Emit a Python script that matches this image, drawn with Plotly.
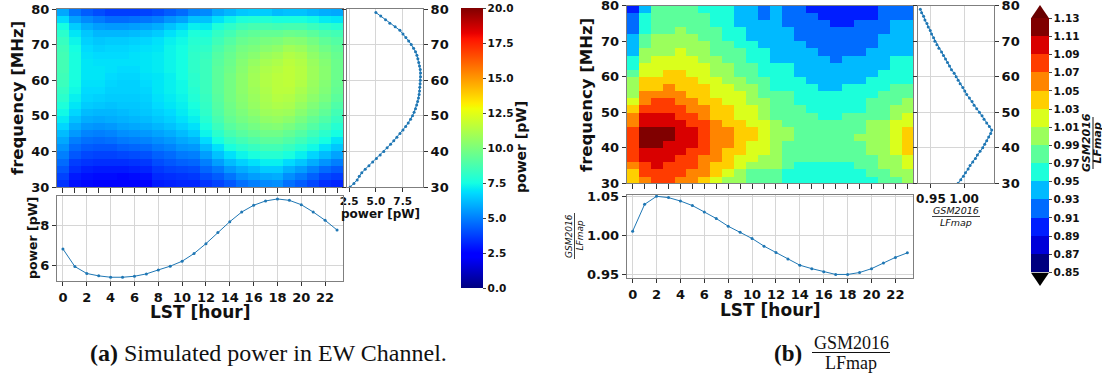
import numpy as np
import plotly.graph_objects as go

# ---------------- data ----------------
hours = list(range(24))
freq_centers = list(range(31, 80, 2))          # 2-MHz map rows (30..80)
freq_fine = list(range(30, 80))                # 1-MHz profile points

# (a) mean power vs LST [pW]
power_lst = [6.82, 5.93, 5.58, 5.46, 5.39, 5.39, 5.44, 5.56, 5.76, 5.95, 6.20, 6.59,
             7.09, 7.65, 8.20, 8.69, 9.03, 9.25, 9.35, 9.28, 9.06, 8.69, 8.27, 7.78]
# (a) mean power vs frequency [pW]
power_freq = [2.60, 2.95, 3.25, 3.45, 3.68, 4.00, 4.35, 4.70, 5.05, 5.40,
              5.74, 6.05, 6.37, 6.67, 6.96, 7.25, 7.53, 7.78, 8.02, 8.24,
              8.42, 8.57, 8.70, 8.81, 8.90, 8.98, 9.04, 9.08, 9.10, 9.13,
              9.15, 9.17, 9.17, 9.14, 9.07, 9.00, 8.92, 8.83, 8.70, 8.52,
              8.30, 8.06, 7.80, 7.53, 7.24, 6.80, 6.30, 5.90, 5.45, 5.00]
# (b) ratio vs LST
ratio_lst = [1.0056, 1.0404, 1.0508, 1.0491, 1.0447, 1.0388, 1.0305, 1.0220, 1.0120, 1.0043,
             0.9961, 0.9862, 0.9780, 0.9694, 0.9615, 0.9570, 0.9530, 0.9495, 0.9495, 0.9520,
             0.9570, 0.9642, 0.9716, 0.9775]
# (b) ratio vs frequency
ratio_freq = [0.991, 0.995, 0.999, 1.002, 1.006, 1.009, 1.013, 1.017, 1.020, 1.024,
              1.028, 1.031, 1.034, 1.037, 1.040, 1.0415, 1.038, 1.034, 1.030, 1.027,
              1.023, 1.019, 1.015, 1.012, 1.008, 1.004, 1.001, 0.998, 0.994, 0.991,
              0.988, 0.985, 0.981, 0.978, 0.975, 0.972, 0.969, 0.966, 0.962, 0.959,
              0.956, 0.954, 0.951, 0.949, 0.946, 0.944, 0.941, 0.939, 0.936, 0.934]

# (a) power map, one list per LST hour, rows from 31 MHz up to 79 MHz
power_map_by_hour = [
    [3.5,3.8,4.2,4.6,5.0,5.4,5.8,6.2,6.7,7.1,7.4,7.7,8.0,8.2,8.4,8.5,8.6,8.6,8.6,8.5,8.3,8.0,7.5,6.8,5.8],
    [2.8,3.0,3.4,3.7,4.2,4.6,5.0,5.5,5.9,6.3,6.7,7.0,7.2,7.4,7.5,7.6,7.6,7.6,7.6,7.5,7.3,7.0,6.5,5.7,4.8],
    [2.6,2.8,3.1,3.5,3.9,4.3,4.7,5.1,5.5,5.9,6.2,6.5,6.7,6.8,6.9,7.0,7.0,7.0,6.9,6.8,6.6,6.4,5.9,5.2,4.3],
    [2.5,2.7,3.0,3.4,3.8,4.2,4.6,5.0,5.4,5.8,6.1,6.4,6.6,6.8,6.9,7.0,7.0,6.9,6.8,6.6,6.4,6.1,5.6,4.9,4.0],
    [2.5,2.7,3.0,3.4,3.8,4.2,4.7,5.1,5.5,5.9,6.1,6.3,6.5,6.6,6.7,6.8,6.9,6.9,6.8,6.7,6.5,6.1,5.5,4.6,3.7],
    [2.4,2.6,3.0,3.4,3.9,4.4,4.9,5.3,5.7,6.0,6.2,6.4,6.5,6.6,6.6,6.7,6.8,6.9,6.8,6.7,6.5,6.1,5.5,4.6,3.7],
    [2.4,2.7,3.1,3.5,4.0,4.5,5.0,5.4,5.8,6.1,6.3,6.4,6.5,6.6,6.6,6.7,6.8,6.9,6.9,6.8,6.6,6.2,5.6,4.7,3.7],
    [2.5,2.8,3.2,3.6,4.1,4.6,5.1,5.5,5.9,6.2,6.4,6.5,6.6,6.7,6.8,6.9,7.0,7.0,7.0,6.9,6.7,6.3,5.7,4.8,3.8],
    [3.0,3.3,3.6,4.0,4.4,4.9,5.3,5.7,6.1,6.4,6.6,6.8,6.9,7.0,7.0,7.0,7.1,7.1,7.1,7.0,6.9,6.5,5.9,5.0,4.0],
    [3.1,3.4,3.8,4.2,4.6,5.1,5.5,5.9,6.3,6.6,6.8,7.0,7.1,7.2,7.2,7.2,7.3,7.3,7.3,7.3,7.2,6.9,6.3,5.4,4.3],
    [3.2,3.5,3.9,4.4,4.9,5.4,5.8,6.2,6.6,6.9,7.1,7.2,7.3,7.4,7.4,7.5,7.5,7.5,7.5,7.5,7.4,7.2,6.7,5.7,4.6],
    [3.2,3.6,4.0,4.5,5.0,5.5,6.0,6.5,6.9,7.2,7.4,7.6,7.8,7.9,8.0,8.0,8.1,8.1,8.1,8.0,7.9,7.7,7.2,6.3,5.1],
    [3.5,4.0,4.5,5.0,5.6,6.2,6.8,7.3,7.6,7.9,8.1,8.2,8.3,8.4,8.4,8.4,8.4,8.4,8.3,8.1,7.9,7.6,7.1,6.3,5.2],
    [3.8,4.3,4.9,5.6,6.3,6.9,7.5,8.0,8.4,8.7,8.9,9.0,9.1,9.2,9.2,9.2,9.2,9.1,9.0,8.8,8.5,8.2,7.7,6.9,5.8],
    [4.2,4.8,5.5,6.2,6.9,7.6,8.2,8.7,9.1,9.4,9.6,9.7,9.8,9.8,9.8,9.8,9.7,9.6,9.5,9.3,9.0,8.6,8.1,7.3,6.1],
    [4.7,5.3,5.9,6.6,7.3,8.0,8.6,9.1,9.5,9.8,10.0,10.2,10.3,10.4,10.4,10.4,10.3,10.2,10.0,9.8,9.5,9.1,8.5,7.7,6.4],
    [5.0,5.6,6.2,6.9,7.6,8.3,8.9,9.4,9.8,10.1,10.4,10.6,10.7,10.8,10.9,10.9,10.8,10.6,10.3,10.0,9.7,9.3,8.7,7.8,6.5],
    [5.2,5.8,6.5,7.2,7.9,8.6,9.2,9.7,10.1,10.5,10.8,11.0,11.1,11.2,11.3,11.3,11.2,11.0,10.7,10.3,9.9,9.4,8.7,7.8,6.5],
    [5.3,5.9,6.5,7.2,7.9,8.6,9.2,9.7,10.2,10.6,10.9,11.2,11.4,11.5,11.5,11.5,11.4,11.2,10.9,10.5,10.0,9.4,8.6,7.6,6.2],
    [4.7,5.3,6.0,6.8,7.6,8.3,8.9,9.4,9.9,10.4,10.8,11.1,11.3,11.5,11.6,11.6,11.6,11.5,11.3,10.9,10.3,9.6,8.7,7.6,6.3],
    [4.3,4.9,5.6,6.4,7.2,7.9,8.5,9.0,9.5,9.9,10.3,10.6,10.9,11.1,11.3,11.4,11.4,11.3,11.1,10.7,10.2,9.5,8.7,7.6,6.3],
    [3.9,4.4,5.1,5.9,6.7,7.4,8.0,8.5,9.0,9.4,9.8,10.1,10.4,10.6,10.7,10.8,10.8,10.7,10.5,10.2,9.8,9.2,8.4,7.4,6.1],
    [3.4,3.9,4.6,5.4,6.2,6.9,7.5,8.0,8.5,8.9,9.3,9.6,9.9,10.1,10.2,10.3,10.3,10.2,10.0,9.7,9.3,8.8,8.1,7.1,5.9],
    [3.2,3.7,4.3,5.0,5.7,6.4,7.0,7.5,7.9,8.3,8.6,8.9,9.2,9.4,9.5,9.6,9.6,9.6,9.5,9.3,9.0,8.6,7.9,7.0,5.8],
]

# (b) ratio map, one list per LST hour, rows from 31 MHz up to 79 MHz
ratio_map_by_hour = [
    [1.04,1.04,1.06,1.08,1.08,1.08,1.08,1.08,1.06,1.06,1.04,1.02,1.00,1.00,1.00,0.98,0.96,0.96,0.94,0.94,0.94,0.92,0.92,0.92,0.90],
    [1.06,1.08,1.08,1.10,1.10,1.12,1.12,1.12,1.10,1.10,1.08,1.06,1.06,1.04,1.04,1.02,1.02,1.00,1.00,0.98,0.98,0.96,0.96,0.96,0.94],
    [1.08,1.08,1.10,1.10,1.10,1.12,1.12,1.12,1.10,1.10,1.08,1.08,1.06,1.04,1.04,1.02,1.02,1.02,1.00,1.00,1.00,0.98,0.98,0.98,0.98],
    [1.08,1.08,1.08,1.10,1.10,1.10,1.12,1.12,1.10,1.10,1.08,1.08,1.06,1.06,1.04,1.04,1.02,1.02,1.00,1.00,1.00,0.98,0.98,0.98,0.98],
    [1.06,1.08,1.08,1.08,1.10,1.10,1.10,1.10,1.10,1.08,1.08,1.06,1.06,1.04,1.04,1.04,1.02,1.02,1.02,1.00,1.00,1.00,0.98,0.98,0.98],
    [1.06,1.06,1.08,1.08,1.08,1.10,1.10,1.10,1.08,1.08,1.06,1.06,1.04,1.04,1.04,1.02,1.02,1.02,1.00,1.00,1.00,0.98,0.98,0.98,0.98],
    [1.04,1.06,1.06,1.06,1.08,1.08,1.08,1.08,1.08,1.06,1.06,1.04,1.04,1.04,1.02,1.02,1.02,1.00,1.00,1.00,0.98,0.98,0.98,0.98,0.96],
    [1.02,1.04,1.04,1.06,1.06,1.06,1.06,1.06,1.06,1.04,1.04,1.04,1.02,1.02,1.02,1.00,1.00,1.00,0.98,0.98,0.98,0.98,0.96,0.96,0.96],
    [1.00,1.02,1.04,1.04,1.04,1.06,1.06,1.06,1.04,1.04,1.04,1.02,1.02,1.02,1.00,1.00,1.00,0.98,0.98,0.98,0.96,0.96,0.96,0.96,0.96],
    [1.00,1.00,1.02,1.02,1.04,1.04,1.04,1.04,1.04,1.02,1.02,1.02,1.02,1.00,1.00,0.98,0.98,0.98,0.98,0.96,0.96,0.96,0.94,0.94,0.94],
    [0.98,0.98,1.00,1.02,1.02,1.02,1.04,1.04,1.02,1.02,1.02,1.00,1.00,1.00,0.98,0.98,0.98,0.96,0.96,0.96,0.94,0.94,0.94,0.94,0.94],
    [0.98,0.98,1.00,1.00,1.02,1.02,1.02,1.02,1.02,1.00,1.00,1.00,0.98,0.98,0.98,0.96,0.96,0.96,0.96,0.94,0.94,0.94,0.94,0.92,0.92],
    [0.98,0.98,1.00,1.00,1.00,1.00,1.00,1.00,1.00,0.98,0.98,0.98,0.98,0.96,0.96,0.96,0.96,0.94,0.94,0.94,0.94,0.94,0.94,0.94,0.94],
    [0.96,0.96,0.98,0.98,0.98,0.98,1.00,1.00,0.98,0.98,0.98,0.98,0.98,0.96,0.96,0.96,0.96,0.94,0.94,0.94,0.94,0.94,0.92,0.92,0.92],
    [0.96,0.96,0.96,0.98,0.98,0.98,0.98,0.98,0.98,0.98,0.98,0.96,0.96,0.96,0.96,0.94,0.94,0.94,0.94,0.94,0.92,0.92,0.92,0.92,0.92],
    [0.96,0.96,0.96,0.98,0.98,0.98,0.98,0.98,0.98,0.98,0.96,0.96,0.96,0.96,0.94,0.94,0.94,0.94,0.94,0.92,0.92,0.92,0.92,0.92,0.90],
    [0.96,0.96,0.96,0.98,0.98,0.98,0.98,0.98,0.98,0.96,0.96,0.96,0.96,0.94,0.94,0.94,0.94,0.94,0.92,0.92,0.92,0.92,0.92,0.90,0.90],
    [0.96,0.96,0.96,0.98,0.98,0.98,0.98,0.98,0.98,0.96,0.96,0.96,0.96,0.94,0.94,0.94,0.94,0.92,0.92,0.92,0.92,0.92,0.90,0.90,0.90],
    [0.96,0.96,0.96,0.98,0.98,0.98,0.98,0.98,0.98,0.98,0.96,0.96,0.96,0.96,0.94,0.94,0.94,0.94,0.92,0.92,0.92,0.92,0.90,0.90,0.90],
    [0.96,0.96,0.98,0.98,0.98,0.98,1.00,0.98,0.98,0.98,0.96,0.96,0.96,0.96,0.94,0.94,0.94,0.94,0.92,0.92,0.92,0.92,0.92,0.90,0.90],
    [0.96,0.98,0.98,0.98,1.00,1.00,1.00,1.00,1.00,0.98,0.98,0.98,0.96,0.96,0.96,0.94,0.94,0.94,0.94,0.92,0.92,0.92,0.92,0.90,0.90],
    [0.98,0.98,1.00,1.00,1.00,1.00,1.00,1.00,1.00,0.98,0.98,0.98,0.98,0.96,0.96,0.96,0.94,0.94,0.94,0.94,0.94,0.92,0.92,0.92,0.92],
    [0.98,1.00,1.00,1.00,1.02,1.02,1.02,1.02,1.02,1.00,1.00,0.98,0.98,0.98,0.96,0.96,0.96,0.96,0.94,0.94,0.94,0.94,0.94,0.92,0.92],
    [1.00,1.00,1.02,1.02,1.04,1.04,1.04,1.04,1.02,1.02,1.00,1.00,0.98,0.98,0.96,0.96,0.96,0.96,0.94,0.94,0.94,0.94,0.94,0.92,0.92],
]

power_ticks = [0, 2.5, 5, 7.5, 10, 12.5, 15, 17.5, 20]
ratio_levels = [0.85, 0.87, 0.89, 0.91, 0.93, 0.95, 0.97, 0.99, 1.01, 1.03, 1.05, 1.07, 1.09, 1.11, 1.13]
ratio_colors = ['rgb(0,0,128)', 'rgb(0,0,217)', 'rgb(0,29,255)', 'rgb(0,108,255)', 'rgb(0,186,255)',
                'rgb(28,255,218)', 'rgb(92,255,155)', 'rgb(155,255,92)', 'rgb(218,255,28)',
                'rgb(255,206,0)', 'rgb(255,133,0)', 'rgb(255,60,0)', 'rgb(217,0,0)', 'rgb(128,0,0)']

# ---------------- layout helpers ----------------
W, H = 1102, 376
def fx(x): return x / W
def fy(y): return 1 - y / H

jet = [[0.0, 'rgb(0,0,128)'], [0.11, 'rgb(0,0,255)'], [0.125, 'rgb(0,0,255)'],
       [0.34, 'rgb(0,219,255)'], [0.35, 'rgb(0,230,247)'], [0.375, 'rgb(21,255,226)'],
       [0.64, 'rgb(239,255,8)'], [0.65, 'rgb(247,246,0)'], [0.66, 'rgb(255,236,0)'],
       [0.89, 'rgb(255,19,0)'], [0.91, 'rgb(232,0,0)'], [1.0, 'rgb(128,0,0)']]
nb = len(ratio_colors)
disc = []
for k, c in enumerate(ratio_colors):
    disc.append([k / nb, c])
    disc.append([(k + 1) / nb, c])

powZ = np.array(power_map_by_hour).T
ratZ = np.array(ratio_map_by_hour).T

BLUE = '#1f77b4'
FONT = 'DejaVu Sans'
tickf = dict(family=FONT, size=13, color='#111', weight='bold')
smallf = dict(family=FONT, size=10.5, color='#111', weight='bold')

fig = go.Figure()
fig.add_trace(go.Heatmap(
    z=powZ, x=hours, y=freq_centers, colorscale=jet, zmin=0, zmax=20,
    xaxis='x', yaxis='y', hoverinfo='skip',
    colorbar=dict(x=fx(461), xanchor='left', xpad=0, ypad=0, y=fy(8), yanchor='top',
                  len=(288 - 8) / H, thickness=22, thicknessmode='pixels', outlinewidth=0,
                  tickvals=power_ticks, ticktext=['%.1f' % v for v in power_ticks],
                  ticks='outside', ticklen=3, tickfont=smallf)))
fig.add_trace(go.Scatter(x=power_freq, y=freq_fine, xaxis='x2', yaxis='y2', mode='lines+markers',
                         line=dict(color=BLUE, width=1), marker=dict(size=3, color=BLUE)))
fig.add_trace(go.Scatter(x=hours, y=power_lst, xaxis='x3', yaxis='y3', mode='lines+markers',
                         line=dict(color=BLUE, width=1), marker=dict(size=3, color=BLUE)))
fig.add_trace(go.Heatmap(
    z=ratZ, x=hours, y=freq_centers, colorscale=disc, zmin=0.85, zmax=1.13,
    xaxis='x4', yaxis='y4', hoverinfo='skip',
    colorbar=dict(x=fx(1031), xanchor='left', xpad=0, ypad=0, y=fy(18.3), yanchor='top',
                  len=(272.7 - 18.3) / H, thickness=18, thicknessmode='pixels', outlinewidth=0,
                  tickvals=ratio_levels, ticktext=['%.2f' % v for v in ratio_levels],
                  ticks='outside', ticklen=3, tickfont=smallf)))
fig.add_trace(go.Scatter(x=ratio_freq, y=freq_fine, xaxis='x5', yaxis='y5', mode='lines+markers',
                         line=dict(color=BLUE, width=1), marker=dict(size=3, color=BLUE)))
fig.add_trace(go.Scatter(x=hours, y=ratio_lst, xaxis='x6', yaxis='y6', mode='lines+markers',
                         line=dict(color=BLUE, width=1), marker=dict(size=3, color=BLUE)))

base = dict(showline=True, linecolor='#7f7f7f', linewidth=1, mirror=True, ticks='outside',
            ticklen=4, tickwidth=1, tickcolor='#333', tickfont=tickf, zeroline=False,
            showgrid=False, gridcolor='#d6d6d6', gridwidth=1, automargin=False,
            ticklabeloverflow='allow')

def ax(**kw):
    d = dict(base)
    d.update(kw)
    return d

freq_ticks = [30, 40, 50, 60, 70, 80]
lst_ticks = list(range(0, 24, 2))

fig.update_layout(
    width=W, height=H, margin=dict(l=0, r=0, t=0, b=0, pad=0, autoexpand=False),
    paper_bgcolor='white', plot_bgcolor='white', showlegend=False,
    # (a) map
    xaxis=ax(domain=[fx(57), fx(343)], range=[-0.5, 23.5], dtick=1, showticklabels=False,
             anchor='y', ticklen=5),
    yaxis=ax(domain=[fy(187), fy(9)], range=[30, 80], tickvals=freq_ticks, anchor='x'),
    # (a) side profile
    xaxis2=ax(domain=[fx(347), fx(423)], range=[2.3, 9.4], tickvals=[2.5, 5, 7.5],
              ticktext=['2.5', '5.0', '7.5'], showgrid=True, anchor='y2', tickfont=smallf),
    yaxis2=ax(domain=[fy(187), fy(9)], range=[30, 80], tickvals=freq_ticks, side='right',
              showgrid=True, anchor='x2', mirror='ticks'),
    # (a) bottom profile
    xaxis3=ax(domain=[fx(57), fx(343)], range=[-0.5, 23.5], tickvals=lst_ticks, showgrid=True,
              anchor='y3'),
    yaxis3=ax(domain=[fy(281), fy(196)], range=[5.2, 9.5], tickvals=[6, 8], showgrid=True,
              anchor='x3'),
    # (b) map
    xaxis4=ax(domain=[fx(626.7), fx(913.3)], range=[-0.5, 23.5], dtick=1, showticklabels=False,
              anchor='y4', ticklen=5),
    yaxis4=ax(domain=[fy(183.3), fy(5.7)], range=[30, 80], tickvals=freq_ticks, anchor='x4'),
    # (b) side profile
    xaxis5=ax(domain=[fx(918.3), fx(994)], range=[0.931, 1.045], tickvals=[0.95, 1.0],
              ticktext=['0.95', '1.00'], showgrid=True, anchor='y5',
              tickfont=dict(family=FONT, size=12, color='#111', weight='bold')),
    yaxis5=ax(domain=[fy(183.3), fy(5.7)], range=[30, 80], tickvals=freq_ticks, side='right',
              showgrid=True, anchor='x5', mirror='ticks'),
    # (b) bottom profile
    xaxis6=ax(domain=[fx(626.7), fx(913.3)], range=[-0.5, 23.5], tickvals=lst_ticks,
              showgrid=True, anchor='y6'),
    yaxis6=ax(domain=[fy(278.3), fy(195)], range=[0.9445, 1.0525], tickvals=[0.95, 1.0, 1.05],
              ticktext=['0.95', '1.00', '1.05'], showgrid=True, anchor='x6'),
)

ann = []
def text(x, y, s, size, angle=0, bold=True, family=FONT, italic=False, xanchor='center'):
    t = s
    if italic:
        t = '<i>' + t + '</i>'
    if bold:
        t = '<b>' + t + '</b>'
    ann.append(dict(x=fx(x), y=fy(y), xref='paper', yref='paper', text=t, showarrow=False,
                    textangle=angle, xanchor=xanchor, yanchor='middle',
                    font=dict(family=family, size=size, color='#111')))

# axis titles panel (a)
text(17, 98, 'frequency [MHz]', 16.5, angle=-90)
text(32, 238, 'power [pW]', 12.5, angle=-90)
text(200, 312, 'LST [hour]', 17)
text(380, 214, 'power [pW]', 12)
text(521, 147, 'power [pW]', 14, angle=-90)
# axis titles panel (b)
text(587, 95, 'frequency [MHz]', 16.5, angle=-90)
text(770, 310, 'LST [hour]', 17)
# fractions (GSM2016 / LFmap)
text(956, 210.5, 'GSM2016', 9.5, bold=False, italic=True)
text(956, 222, 'LFmap', 9.5, bold=False, italic=True)
text(569, 236, 'GSM2016', 9, angle=-90, bold=False, italic=True)
text(579.5, 236, 'LFmap', 9, angle=-90, bold=False, italic=True)
text(1087, 143, 'GSM2016', 11, angle=-90, bold=True, italic=True)
text(1097.5, 143, 'LFmap', 11, angle=-90, bold=True, italic=True)
# captions
ann.append(dict(x=fx(268), y=fy(353), xref='paper', yref='paper', showarrow=False,
                xanchor='center', yanchor='middle',
                text='<b>(a)</b> Simulated power in EW Channel.',
                font=dict(family='Liberation Serif', size=24, color='#111')))
text(788, 353, '(b)', 23, family='Liberation Serif')
text(851, 343, 'GSM2016', 18, bold=False, family='Liberation Serif')
text(851, 363, 'LFmap', 18, bold=False, family='Liberation Serif')

shapes = [
    dict(type='line', xref='paper', yref='paper', x0=fx(932), x1=fx(980), y0=fy(216.5), y1=fy(216.5),
         line=dict(color='#111', width=0.8)),
    dict(type='line', xref='paper', yref='paper', x0=fx(574.5), x1=fx(574.5), y0=fy(213), y1=fy(259),
         line=dict(color='#111', width=0.8)),
    dict(type='line', xref='paper', yref='paper', x0=fx(1093), x1=fx(1093), y0=fy(117), y1=fy(169),
         line=dict(color='#111', width=1)),
    dict(type='line', xref='paper', yref='paper', x0=fx(812), x1=fx(890), y0=fy(352.5), y1=fy(352.5),
         line=dict(color='#111', width=1)),
    # colorbar extension triangles for (b)
    dict(type='path', xref='paper', yref='paper', line=dict(width=0), fillcolor='rgb(105,0,0)',
         path='M %f,%f L %f,%f L %f,%f Z' % (fx(1031), fy(18.3), fx(1049), fy(18.3), fx(1040), fy(5))),
    dict(type='path', xref='paper', yref='paper', line=dict(width=0), fillcolor='black',
         path='M %f,%f L %f,%f L %f,%f Z' % (fx(1031), fy(272.7), fx(1049), fy(272.7), fx(1040), fy(286))),
]
fig.update_layout(annotations=ann, shapes=shapes)
fig.write_html('out.html', config={'displayModeBar': False},
               post_script="document.body.style.margin='0';document.body.style.overflow='hidden';")
